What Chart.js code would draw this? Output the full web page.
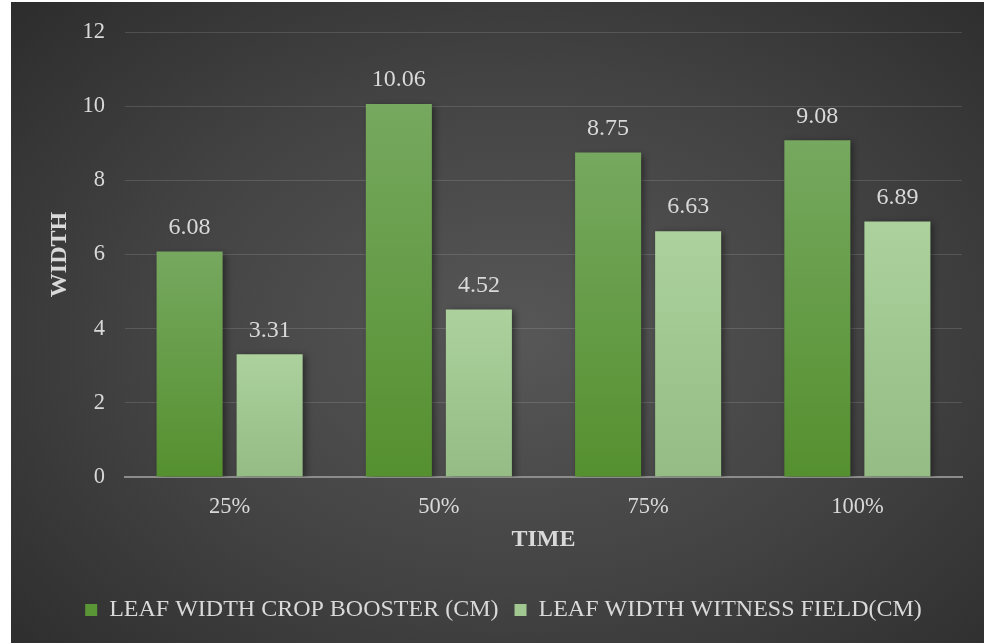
<!DOCTYPE html>
<html>
<head>
<meta charset="utf-8">
<script src="https://cdn.jsdelivr.net/npm/chart.js@4.4.0/dist/chart.umd.min.js"></script>
<style>
  html, body { margin: 0; padding: 0; background: #ffffff; }
  #wrap {
    position: absolute; left: 11px; top: 2px; width: 973px; height: 641px;
    background: radial-gradient(ellipse 75% 80% at 52% 52%, #575757 0%, #434343 50%, #2a2a2a 100%);
  }
  canvas { display: block; }
</style>
</head>
<body>
<div id="wrap"><canvas id="leafChart" width="973" height="641"></canvas></div>
<script>
// chart data
const categories = ['25%', '50%', '75%', '100%'];
const cropBooster = [6.08, 10.06, 8.75, 9.08];
const witnessField = [3.31, 4.52, 6.63, 6.89];
const yTicks = [0, 2, 4, 6, 8, 10, 12];

const FONT = "'Liberation Serif', 'Times New Roman', serif";
const TEXT = '#d9d9d9';

// vertical gradient per bar
function barGradient(top, bottom) {
    return function(ctx) {
        const chart = ctx.chart;
        if (!chart.chartArea || ctx.parsed == null) return bottom;
        const y = chart.scales.y;
        const y0 = y.getPixelForValue(ctx.parsed.y);
        const y1 = y.getPixelForValue(0);
        if (!isFinite(y0) || y1 - y0 < 1) return bottom;
        const g = chart.ctx.createLinearGradient(0, y0, 0, y1);
        g.addColorStop(0, top);
        g.addColorStop(1, bottom);
        return g;
    };
}

// soft shadow behind bars
const barShadow = {
    id: 'barShadow',
    beforeDatasetDraw(chart) {
        const c = chart.ctx;
        c.save();
        c.shadowColor = 'rgba(0,0,0,0.45)';
        c.shadowBlur = 7;
        c.shadowOffsetX = 3;
        c.shadowOffsetY = 2;
    },
    afterDatasetDraw(chart) {
        chart.ctx.restore();
    }
};

// value labels above bars
const valueLabels = {
    id: 'valueLabels',
    afterDatasetsDraw(chart) {
        const c = chart.ctx;
        c.save();
        c.font = '24px ' + FONT;
        c.fillStyle = TEXT;
        c.textAlign = 'center';
        c.textBaseline = 'middle';
        chart.data.datasets.forEach((ds, i) => {
            chart.getDatasetMeta(i).data.forEach((bar, j) => {
                c.fillText(ds.data[j].toFixed(2), bar.x, bar.y - 24);
            });
        });
        c.restore();
    }
};

new Chart(document.getElementById('leafChart'), {
    type: 'bar',
    data: {
        labels: categories,
        datasets: [
            {
                label: 'LEAF WIDTH CROP BOOSTER (CM)',
                data: cropBooster,
                backgroundColor: barGradient('#76a85f', '#55902f'),
                categoryPercentage: 0.765,
                barPercentage: 0.825
            },
            {
                label: 'LEAF WIDTH WITNESS FIELD(CM)',
                data: witnessField,
                backgroundColor: barGradient('#acd19d', '#94bc84'),
                categoryPercentage: 0.765,
                barPercentage: 0.825
            }
        ]
    },
    options: {
        responsive: false,
        animation: false,
        layout: { padding: { top: 30, right: 22, left: 34, bottom: 11 } },
        plugins: {
            tooltip: { enabled: false },
            legend: {
                position: 'bottom',
                labels: {
                    color: TEXT,
                    font: { family: FONT, size: 24 },
                    boxWidth: 12,
                    boxHeight: 12,
                    padding: 16,
                    generateLabels(chart) {
                        const fills = ['#5a9636', '#a1c890'];
                        return chart.data.datasets.map((ds, i) => ({
                            text: ds.label,
                            fillStyle: fills[i],
                            strokeStyle: fills[i],
                            lineWidth: 0,
                            fontColor: TEXT,
                            datasetIndex: i
                        }));
                    }
                }
            }
        },
        scales: {
            x: {
                afterFit(axis) { axis.height = 105; },
                grid: { display: false, drawTicks: false },
                border: { color: '#8c8c8c', width: 2 },
                ticks: { color: TEXT, font: { family: FONT, size: 22.5 }, padding: 17 },
                title: {
                    display: true, text: 'TIME', color: TEXT,
                    font: { family: FONT, size: 24, weight: 'bold' },
                    padding: { top: 0, bottom: 28 }
                }
            },
            y: {
                min: 0,
                max: 12,
                afterFit(axis) {
                    axis.width = 80;
                    axis.paddingTop = 0;
                    axis.paddingBottom = 0;
                },
                afterBuildTicks(axis) { axis.ticks = yTicks.map(v => ({ value: v })); },
                grid: { color: 'rgba(255,255,255,0.13)', drawTicks: false },
                border: { display: false },
                ticks: { color: TEXT, font: { family: FONT, size: 22.5 }, padding: 20 },
                title: {
                    display: true, text: 'WIDTH', color: TEXT,
                    font: { family: FONT, size: 24, weight: 'bold' },
                    padding: { top: 0, bottom: 8 }
                }
            }
        }
    },
    plugins: [barShadow, valueLabels]
});
</script>
</body>
</html>
